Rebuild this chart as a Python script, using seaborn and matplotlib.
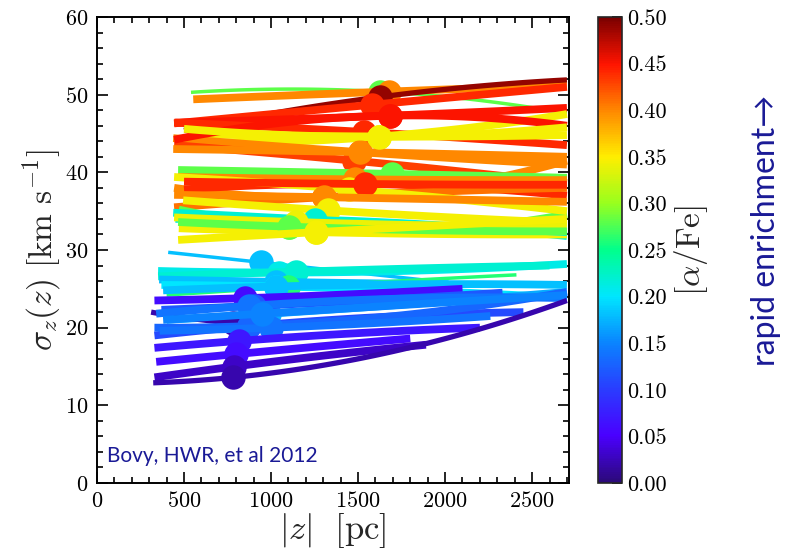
import numpy as np
import matplotlib
matplotlib.use("Agg")
import matplotlib.pyplot as plt
from matplotlib.colors import LinearSegmentedColormap, Normalize
from matplotlib.ticker import MultipleLocator, FormatStrFormatter
import seaborn as sns

# Mono-abundance populations: [alpha/Fe], fitted z range, sigma_z at the ends,
# and the median height with its sigma_z (the dot).
afe = [0.28, 0.40, 0.49, 0.44, 0.45, 0.44, 0.345, 0.345, 0.40, 0.43,
       0.45, 0.40, 0.345, 0.40, 0.44, 0.41, 0.22, 0.28, 0.345,
       0.28, 0.40, 0.345, 0.44, 0.40, 0.345, 0.22, 0.34, 0.28, 0.345,
       0.18, 0.21, 0.22, 0.18, 0.20, 0.26, 0.17, 0.18, 0.06, 0.12,
       0.02, 0.11, 0.14, 0.13, 0.14, 0.15, 0.07, 0.06, 0.03, 0.02]
z_lo = [540, 553, 500, 443, 450, 443, 590, 640, 438, 443,
        443, 438, 500, 443, 500, 443, 450, 470, 470,
        466, 466, 443, 500, 443, 495, 438, 443, 466, 466,
        409, 351, 351, 357, 370, 400, 400, 380, 330, 370,
        311, 330, 340, 330, 360, 380, 330, 340, 330, 323]
z_hi = [2700, 2700, 2700, 2700, 2700, 2700, 2700, 2700, 2700, 2700,
        2700, 2700, 2700, 2700, 2700, 2700, 2700, 2700, 2700,
        2700, 2700, 2700, 2700, 2700, 2700, 2700, 2700, 2700, 2700,
        2020, 2700, 2600, 2020, 2570, 2410, 2700, 2700, 2100, 2330,
        2100, 2450, 2700, 2700, 2260, 2700, 2200, 1800, 1890, 2700]
sig_lo = [50.3, 49.4, 45.4, 46.3, 46.4, 46.4, 44.9, 43.8, 44.4, 43.5,
          44.2, 43.0, 45.6, 38.0, 37.8, 35.5, 34.0, 35.2, 32.8,
          40.3, 39.4, 39.4, 38.8, 37.1, 36.4, 34.8, 34.2, 33.6, 31.3,
          29.7, 27.3, 26.6, 26.2, 25.5, 24.2, 21.0, 24.8, 23.5, 22.3,
          22.0, 19.0, 21.8, 20.0, 19.6, 21.0, 17.4, 15.6, 13.6, 12.9]
sig_hi = [47.6, 51.2, 51.9, 51.0, 48.3, 43.5, 44.8, 47.5, 41.0, 38.6,
          46.0, 42.0, 45.8, 41.5, 37.0, 38.0, 31.8, 34.6, 32.0,
          39.3, 39.0, 35.0, 38.4, 36.2, 33.5, 32.3, 33.0, 32.4, 34.0,
          25.8, 28.2, 28.0, 25.6, 24.0, 26.8, 24.6, 25.5, 25.0, 24.5,
          22.5, 22.0, 23.8, 24.6, 21.5, 24.2, 20.0, 18.6, 17.8, 23.5]
z_dot = [1624, 1676, 1624, 1578, 1682, 1532, 1619, 1619, 1509, 1475,
         1682, 1509, 1619, 1302, 1538, 1302, 1250, 1106, 1261,
         1693, 1480, 1450, 1538, 1302, 1330, 1250, 1146, 1106, 1261,
         945, 1043, 1146, 1031, 1031, 1100, 990, 1031, 852, 900,
         783, 876, 876, 876, 1002, 950, 818, 801, 790, 783]
sig_dot = [50.4, 50.4, 49.7, 48.7, 47.3, 45.2, 44.6, 44.6, 42.6, 41.5,
           47.3, 42.6, 44.6, 36.8, 38.5, 36.8, 33.9, 33.0, 32.3,
           39.8, 39.1, 37.8, 38.5, 36.8, 35.1, 33.9, 33.6, 33.0, 32.3,
           28.4, 27.1, 27.2, 25.9, 25.3, 25.2, 21.8, 25.3, 23.8, 22.8,
           20.6, 20.2, 22.8, 20.2, 20.0, 21.8, 18.3, 16.6, 15.0, 13.6]
# line weight class: 0 thin, 1 medium, 2 thick
weight = [0, 2, 1, 2, 2, 2, 2, 2, 2, 2,
          2, 2, 2, 2, 2, 2, 2, 2, 2,
          2, 2, 2, 2, 2, 2, 2, 2, 2, 2,
          0, 2, 2, 2, 2, 0, 2, 2, 2, 2,
          1, 2, 2, 2, 2, 2, 2, 2, 2, 1]

x_ticks = [0, 500, 1000, 1500, 2000, 2500]
y_ticks = [0, 10, 20, 30, 40, 50, 60]
cbar_ticks = [0.00, 0.05, 0.10, 0.15, 0.20, 0.25, 0.30, 0.35, 0.40, 0.45, 0.50]

sns.set_theme(style="ticks")
plt.rcParams["font.family"] = ["cmr10", "DejaVu Serif"]
plt.rcParams["mathtext.fontset"] = "cm"
plt.rcParams["axes.formatter.use_mathtext"] = True

cmap = LinearSegmentedColormap.from_list("afe_map", [
    (0.00, "#2b0a78"), (0.10, "#4a00ff"), (0.20, "#2a3cff"),
    (0.30, "#0a84ff"), (0.40, "#00e6ff"), (0.50, "#00ff8c"),
    (0.60, "#98ff1e"), (0.70, "#ffee00"), (0.80, "#ff8800"),
    (0.90, "#ff1400"), (1.00, "#7a0000")])
norm = Normalize(0.0, 0.5)
widths = [2.5, 3.8, 5.6]

fig = plt.figure(figsize=(7.94, 5.49), dpi=100)
ax = fig.add_axes([97 / 794, 1 - 483 / 549, 472 / 794, 466 / 549])
cax = fig.add_axes([598 / 794, 1 - 483 / 549, 24 / 794, 466 / 549])

for i in range(len(afe)):
    col = cmap(norm(afe[i]))
    pts_z = [z_lo[i], z_dot[i], z_hi[i]]
    pts_s = [sig_lo[i], sig_dot[i], sig_hi[i]]
    coef = np.polyfit(pts_z, pts_s, 2)
    zz = np.linspace(z_lo[i], z_hi[i], 80)
    sns.lineplot(x=zz, y=np.polyval(coef, zz), color=col, ax=ax,
                 lw=widths[weight[i]], sort=False,
                 solid_capstyle="butt", zorder=2 + i * 0.01)
    sns.scatterplot(x=[z_dot[i]], y=[sig_dot[i]], color=col, s=310,
                    linewidth=0, ax=ax, zorder=2.005 + i * 0.01)

ax.set_xlim(0, 2712)
ax.set_ylim(0, 60)
ax.set_xticks(x_ticks)
ax.set_yticks(y_ticks)
ax.xaxis.set_minor_locator(MultipleLocator(100))
ax.yaxis.set_minor_locator(MultipleLocator(2))
ax.tick_params(which="both", direction="in", top=True, right=True,
               colors="black", labelsize=16, width=1.2)
ax.tick_params(which="major", length=8, pad=6)
ax.tick_params(which="minor", length=4)
for sp in ax.spines.values():
    sp.set_linewidth(1.4)
    sp.set_color("black")
ax.set_xlabel(r"$|z|\ \ [\mathrm{pc}]$", fontsize=25, labelpad=0)
ax.set_ylabel(r"$\sigma_z(z)\ [\mathrm{km\ s^{-1}}]$", fontsize=24, labelpad=2)

sm = matplotlib.cm.ScalarMappable(norm=norm, cmap=cmap)
cb = fig.colorbar(sm, cax=cax, ticks=cbar_ticks)
cb.ax.yaxis.set_major_formatter(FormatStrFormatter("%.2f"))
cb.ax.tick_params(direction="in", length=7, width=1.2, labelsize=16, colors="black")
cb.outline.set_linewidth(1.2)
cb.set_label(r"$[\alpha/\mathrm{Fe}]$", fontsize=24, labelpad=4)

blue_txt = "#1a1a96"
fig.text(107 / 794, 1 - 462 / 549, "Bovy, HWR, et al 2012", color=blue_txt,
         fontsize=15, family=["Lato", "DejaVu Sans"], ha="left", va="baseline")
fig.text(766 / 794, 1 - 230 / 549, "rapid enrichment\u2192", color=blue_txt,
         fontsize=23, family=["Lato", "DejaVu Sans"], rotation=90,
         ha="center", va="center")

fig.savefig("out.png", dpi=100)
